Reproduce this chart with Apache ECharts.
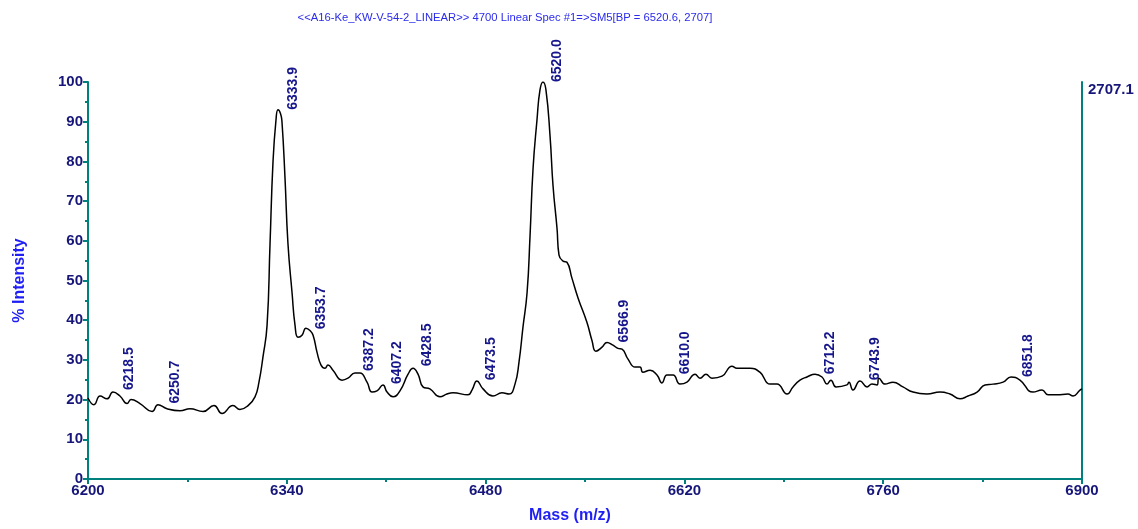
<!DOCTYPE html>
<html>
<head>
<meta charset="utf-8">
<script src="https://cdn.jsdelivr.net/npm/echarts/dist/echarts.min.js"></script>
<style>
  html, body { margin: 0; padding: 0; background: #fff; }
  #chart { width: 1138px; height: 529px; }
</style>
</head>
<body>
<div id="chart"></div>
<script>
// spectrum trace (m/z, % intensity)
const massValues = [
  6200.0, 6204.2, 6208.5, 6213.4, 6217.6, 6222.5, 6227.5, 6230.3, 6236.6, 6245.1,
  6249.3, 6255.6, 6264.8, 6271.8, 6281.0, 6288.7, 6294.4, 6302.1, 6307.0, 6312.7,
  6317.6, 6320.4, 6323.2, 6326.1, 6328.2, 6330.3, 6332.4, 6333.8, 6335.6, 6336.6,
  6338.7, 6340.8, 6343.7, 6345.8, 6347.9, 6350.7, 6353.5, 6356.3, 6358.5, 6361.3,
  6364.1, 6366.9, 6369.0, 6372.5, 6378.9, 6383.1, 6388.0, 6391.5, 6396.5, 6400.0,
  6403.5, 6407.7, 6410.6, 6414.8, 6419.7, 6425.4, 6428.9, 6432.4, 6435.9, 6440.8,
  6447.9, 6452.8, 6457.0, 6467.6, 6470.4, 6473.9, 6478.2, 6485.2, 6491.5, 6496.5,
  6500.7, 6503.5, 6506.3, 6509.2, 6511.3, 6513.4, 6516.2, 6518.3, 6520.4, 6522.5,
  6525.4, 6527.5, 6530.3, 6531.7, 6534.5, 6537.3, 6540.8, 6545.1, 6551.4, 6554.9,
  6557.7, 6562.0, 6565.5, 6569.7, 6573.2, 6576.1, 6580.3, 6585.2, 6588.7, 6590.8,
  6595.8, 6600.7, 6604.2, 6607.7, 6612.0, 6616.9, 6621.8, 6627.5, 6631.0, 6635.2,
  6639.4, 6646.5, 6653.5, 6657.0, 6666.2, 6673.2, 6680.3, 6685.2, 6692.3, 6696.5,
  6701.4, 6706.3, 6712.0, 6716.9, 6720.4, 6723.2, 6726.8, 6734.5, 6735.9, 6738.7,
  6743.7, 6748.6, 6752.1, 6755.6, 6757.0, 6761.3, 6766.9, 6773.9, 6781.0, 6790.8,
  6800.0, 6807.0, 6814.1, 6819.7, 6826.1, 6831.7, 6837.3, 6844.4, 6850.0, 6856.3,
  6865.5, 6871.8, 6876.1, 6882.4, 6890.1, 6893.7, 6898.6, 6900.0
];
const intensityValues = [
  20.4, 18.7, 20.9, 20.2, 21.9, 20.9, 19.0, 20.0, 19.0, 17.0,
  18.7, 17.7, 17.2, 17.7, 17.0, 18.5, 16.5, 18.5, 17.5, 18.5,
  20.7, 24.4, 30.7, 38.7, 59.4, 80.0, 90.5, 93.0, 92.0, 90.0,
  76.1, 59.4, 46.9, 38.7, 35.7, 36.2, 38.0, 37.4, 36.2, 31.9,
  28.7, 27.9, 28.7, 27.4, 24.9, 25.4, 26.7, 26.7, 24.4, 21.9,
  22.2, 23.7, 21.9, 20.7, 22.2, 26.4, 27.9, 26.4, 23.2, 22.7,
  20.7, 21.4, 21.7, 21.2, 22.4, 24.7, 22.7, 20.9, 21.7, 21.4,
  23.9, 29.4, 38.2, 46.9, 61.3, 78.1, 90.5, 98.0, 100.0, 98.0,
  86.3, 73.8, 63.1, 56.4, 54.9, 54.6, 50.6, 45.6, 39.4, 34.9,
  32.2, 33.2, 34.4, 33.7, 32.9, 32.7, 30.2, 28.2, 28.2, 26.9,
  27.4, 26.2, 24.2, 26.2, 26.2, 23.9, 24.4, 26.4, 25.4, 26.4,
  25.4, 25.9, 28.4, 27.9, 27.9, 26.9, 23.9, 23.9, 21.4, 23.2,
  24.9, 25.7, 26.4, 25.7, 23.9, 24.9, 23.2, 23.7, 24.4, 22.4,
  24.7, 23.2, 23.9, 23.7, 25.4, 23.9, 24.4, 23.2, 21.9, 21.4,
  21.9, 21.4, 20.2, 20.9, 21.9, 23.7, 23.9, 24.4, 25.7, 24.9,
  21.9, 22.4, 21.2, 21.2, 21.4, 20.9, 22.4, 22.7
];

// labelled peaks
const peakMasses = [6218.5, 6250.7, 6333.9, 6353.7, 6387.2, 6407.2, 6428.5, 6473.5,
  6520.0, 6566.9, 6610.0, 6712.2, 6743.9, 6851.8];
const peakHeights = [22.4, 19.0, 93.0, 37.7, 27.2, 23.9, 28.4, 24.9,
  100.0, 34.4, 26.4, 26.4, 24.9, 25.7];

// axes
const massRange = [6200, 6900];
const massStep = 140;
const intensityRange = [0, 100];
const intensityStep = 10;
const absMax = 2707.1;
const titleText = '<<A16-Ke_KW-V-54-2_LINEAR>> 4700 Linear Spec #1=>SM5[BP = 6520.6, 2707]';

const teal = '#00807c';
const navy = '#16167a';
const font = 'Arial, "Liberation Sans", sans-serif';

const chart = echarts.init(document.getElementById('chart'));

const tickLabel = { color: navy, fontWeight: 'bold', fontSize: 15, fontFamily: font };

const option = {
  animation: false,
  title: {
    text: titleText,
    left: 500,
    top: 7,
    textAlign: 'center',
    textStyle: { color: '#2b2bec', fontSize: 11.25, fontWeight: 'normal', fontFamily: font }
  },
  grid: { left: 88, right: 56, top: 82, bottom: 46 },
  xAxis: {
    type: 'value',
    min: massRange[0],
    max: massRange[1],
    interval: massStep,
    name: 'Mass (m/z)',
    nameLocation: 'middle',
    nameGap: 29,
    nameTextStyle: { color: '#1f1ff5', fontWeight: 'bold', fontSize: 16, fontFamily: font, padding: [0, 30, 0, 0] },
    axisLine: { lineStyle: { color: teal, width: 2 } },
    axisTick: { length: 5, lineStyle: { color: teal, width: 2 } },
    minorTick: { show: true, splitNumber: 2, length: 3, lineStyle: { color: teal, width: 2 } },
    splitLine: { show: false },
    axisLabel: Object.assign({ margin: 4, formatter: (v) => String(v) }, tickLabel)
  },
  yAxis: [
    {
      type: 'value',
      min: intensityRange[0],
      max: intensityRange[1],
      interval: intensityStep,
      name: '% Intensity',
      nameLocation: 'middle',
      nameGap: 60,
      nameTextStyle: { color: '#1f1ff5', fontWeight: 'bold', fontSize: 16, fontFamily: font },
      axisLine: { show: true, lineStyle: { color: teal, width: 2 } },
      axisTick: { length: 5, lineStyle: { color: teal, width: 2 } },
      minorTick: { show: true, splitNumber: 2, length: 3, lineStyle: { color: teal, width: 2 } },
      splitLine: { show: false },
      axisLabel: Object.assign({ margin: 5 }, tickLabel)
    },
    {
      // absolute counts on the right
      type: 'value',
      position: 'right',
      min: 0,
      max: absMax,
      interval: absMax,
      axisLine: { show: true, lineStyle: { color: teal, width: 2 } },
      axisTick: { show: false },
      splitLine: { show: false },
      axisLabel: Object.assign({
        margin: 6,
        verticalAlign: 'top',
        formatter: (v) => (v > 0 ? absMax.toFixed(1) : '')
      }, tickLabel)
    }
  ],
  series: [
    {
      type: 'line',
      data: massValues.map((m, i) => [m, intensityValues[i]]),
      showSymbol: false,
      smooth: 0.5,
      lineStyle: { color: '#000', width: 1.5 },
      z: 3
    },
    {
      type: 'scatter',
      data: peakMasses.map((m, i) => [m, peakHeights[i]]),
      symbolSize: 0,
      silent: true,
      itemStyle: { opacity: 1 },
      label: {
        show: true,
        position: [15, 0],
        rotate: 90,
        align: 'left',
        verticalAlign: 'middle',
        formatter: (p) => p.value[0].toFixed(1),
        color: '#16168c',
        fontWeight: 700,
        fontSize: 14,
        fontFamily: '"Liberation Sans", Arial, sans-serif'
      },
      z: 4
    }
  ]
};

chart.setOption(option);
</script>
</body>
</html>
